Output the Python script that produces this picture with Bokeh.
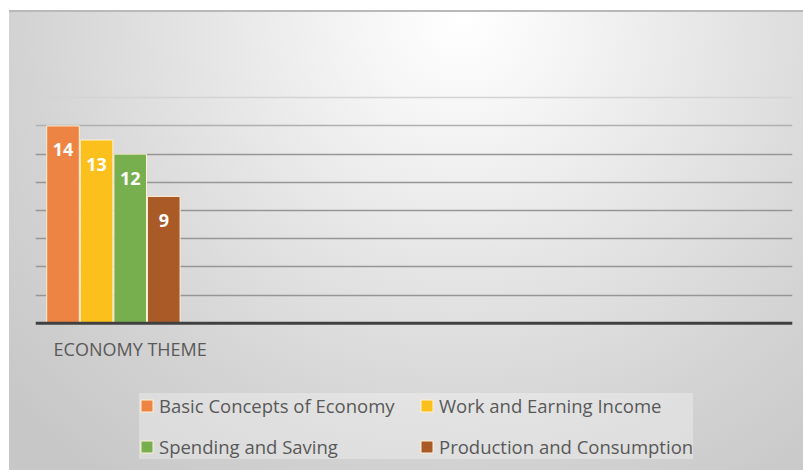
from bokeh.plotting import figure
from bokeh.models import Range1d, FixedTicker, Grid, Legend, LegendItem, ColumnDataSource, Span, Label
from bokeh.core.properties import value
from bokeh.embed import file_html
from bokeh.resources import INLINE

category = "ECONOMY THEME"
series = ["Basic Concepts of Economy", "Work and Earning Income",
          "Spending and Saving", "Production and Consumption"]
values = [14, 13, 12, 9]
colors = ["#EE8443", "#FBC01C", "#77AF4F", "#A95A27"]
grid_ticks = [2, 4, 6, 8, 10, 12, 14, 16]

p = figure(width=803, height=470, output_backend="svg", toolbar_location=None,
           x_range=Range1d(-0.818, 21.71), y_range=Range1d(-10.45, 21.48),
           min_border_left=35, min_border_right=11, min_border_top=20,
           min_border_bottom=0)
p.outline_line_color = None
p.background_fill_color = None
p.border_fill_color = None
p.styles = {
    "background-color": "#ffffff",
    "background-image": "linear-gradient(#b9b9b9, #b9b9b9), "
                        "radial-gradient(600px 580px at 57% 2%, #ffffff 0%, #f6f6f6 16%, "
                        "#e4e4e4 45%, #d4d4d4 72%, #c7c7c7 100%)",
    "background-size": "794px 2px, 794px 460px",
    "background-position": "9px 10px, 9px 10px",
    "background-repeat": "no-repeat",
}

# axes hidden; baseline drawn as a span at zero
p.xaxis.visible = False
p.yaxis.visible = False

# grid
p.xgrid.visible = False
p.ygrid.ticker = FixedTicker(ticks=grid_ticks[:-2])
p.ygrid.grid_line_color = "#969696"
p.ygrid.grid_line_width = 1.6
g2 = Grid(dimension=1, ticker=FixedTicker(ticks=grid_ticks[-2:-1]),
          grid_line_color="#b0b0b0", grid_line_width=1.6)
g3 = Grid(dimension=1, ticker=FixedTicker(ticks=grid_ticks[-1:]),
          grid_line_color="#d4d4d4", grid_line_width=1.6)
p.add_layout(g2)
p.add_layout(g3)

p.add_layout(Span(location=0, dimension="width", line_color="#404040", line_width=3))

p.add_layout(Label(x=2.0, y=0, y_offset=-26, text=category, text_align="center",
                   text_baseline="middle", text_font="Open Sans",
                   text_font_size="18px", text_color="#595959"))

renderers = []
for i, (name, v, c) in enumerate(zip(series, values, colors)):
    src = ColumnDataSource(dict(x=[i], top=[v], lab=[str(v)]))
    r = p.vbar(x="x", top="top", width=0.97, source=src, fill_color=c,
               line_color="#FFF1D6", line_width=1)
    renderers.append(r)
    p.text(x="x", y="top", text="lab", source=src, text_color="white",
           text_font=value("Open Sans"), text_font_style="bold",
           text_font_size="18px", text_align="center", text_baseline="middle",
           y_offset=24)

legend = Legend(items=[LegendItem(label=s, renderers=[r]) for s, r in zip(series, renderers)],
                orientation="horizontal", ncols=2, location=(104, 11))
legend.background_fill_color = "#ffffff"
legend.background_fill_alpha = 0.3
legend.border_line_color = None
legend.label_text_font = "Open Sans"
legend.label_text_font_size = "18.5px"
legend.label_text_color = "#595959"
legend.glyph_width = 15
legend.glyph_height = 15
legend.label_standoff = 5
legend.padding = 10
legend.spacing = 16
legend.label_width = 244
legend.label_height = 24
legend.margin = 0
p.add_layout(legend)

open("out.html", "w").write(file_html(p, INLINE))
